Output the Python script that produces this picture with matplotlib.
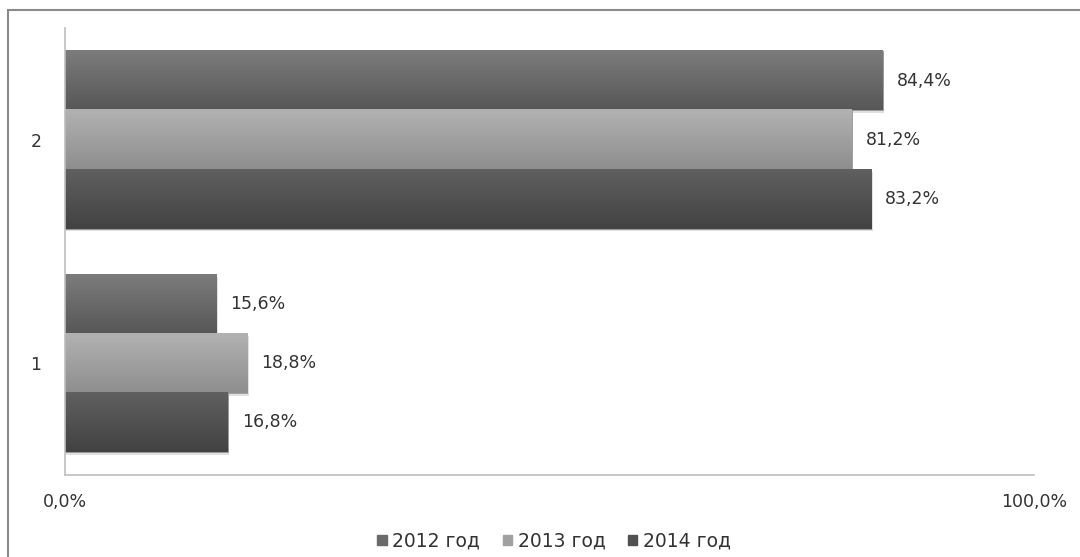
import numpy as np
import matplotlib
matplotlib.use("Agg")
import matplotlib.pyplot as plt
from matplotlib.patches import Rectangle
from matplotlib.colors import LinearSegmentedColormap

categories = ["1", "2"]
series = ["2012 год", "2013 год", "2014 год"]
values_2012 = [15.6, 84.4]
values_2013 = [18.8, 81.2]
values_2014 = [16.8, 83.2]
x_tick_labels = ["0,0%", "100,0%"]

all_values = [values_2012, values_2013, values_2014]
# (top, bottom) gradient shades for each series
shades = [("#7c7c7c", "#575757"), ("#b2b2b2", "#8e8e8e"), ("#606060", "#424242")]
legend_colors = ["#6a6a6a", "#a0a0a0", "#505050"]

fig = plt.figure(figsize=(10.8, 5.57), dpi=100)
fig.patch.set_facecolor("white")
ax = fig.add_axes([65 / 1080, 1 - 475 / 557, 969 / 1080, (475 - 28) / 557])

h = 0.265
offsets = [h, 0.0, -h]
ypos = np.arange(1, len(categories) + 1)

for vals, off, (c_top, c_bot), lc, name in zip(all_values, offsets, shades, legend_colors, series):
    bars = ax.barh(ypos + off, vals, height=h, color=lc, edgecolor="#9a9a9a",
                   linewidth=0.6, label=name, zorder=2)
    cmap = LinearSegmentedColormap.from_list("g", [c_top, c_bot])
    grad = np.linspace(0, 1, 64).reshape(-1, 1)
    for b, v in zip(bars, vals):
        x0, y0 = b.get_x(), b.get_y()
        w, hh = b.get_width(), b.get_height()
        # soft drop shadow
        ax.add_patch(Rectangle((x0 + 0.15, y0 - 0.012), w, hh, color="#000000",
                               alpha=0.12, zorder=1, linewidth=0))
        ax.imshow(grad, cmap=cmap, aspect="auto", origin="upper",
                  extent=(x0, x0 + w, y0, y0 + hh), zorder=2.5)
        ax.annotate(f"{v:.1f}%".replace(".", ","), (x0 + w, y0 + hh / 2),
                    xytext=(10, 0), textcoords="offset points",
                    va="center", ha="left", fontsize=12.5, color="#333333")

ax.set_xlim(0, 100)
ax.set_ylim(0.5, len(categories) + 0.5)
ax.set_xticks([0, 100])
ax.set_xticklabels(x_tick_labels)
ax.set_yticks(ypos)
ax.set_yticklabels(categories)
ax.tick_params(axis="both", length=0, labelsize=12.5, labelcolor="#333333")
ax.tick_params(axis="x", pad=13)
ax.tick_params(axis="y", pad=17)
for s in ["top", "right"]:
    ax.spines[s].set_visible(False)
for s in ["left", "bottom"]:
    ax.spines[s].set_color("#bdbdbd")
    ax.spines[s].set_linewidth(1.2)

handles = [Rectangle((0, 0), 1, 1, color=c) for c in legend_colors]
fig.legend(handles, series, loc="center", bbox_to_anchor=(554 / 1080, 1 - 541 / 557),
           ncol=3, frameon=False, fontsize=13.5, handlelength=0.5, handleheight=0.45,
           handletextpad=0.3, columnspacing=1.2, labelcolor="#333333")

fig.patches.append(Rectangle((8 / 1080, -0.1), 1.2, 1 - 10 / 557 + 0.1,
                             transform=fig.transFigure, fill=False,
                             edgecolor="#8a8a8a", linewidth=1.5, zorder=10))

fig.savefig("out.png", dpi=100)
